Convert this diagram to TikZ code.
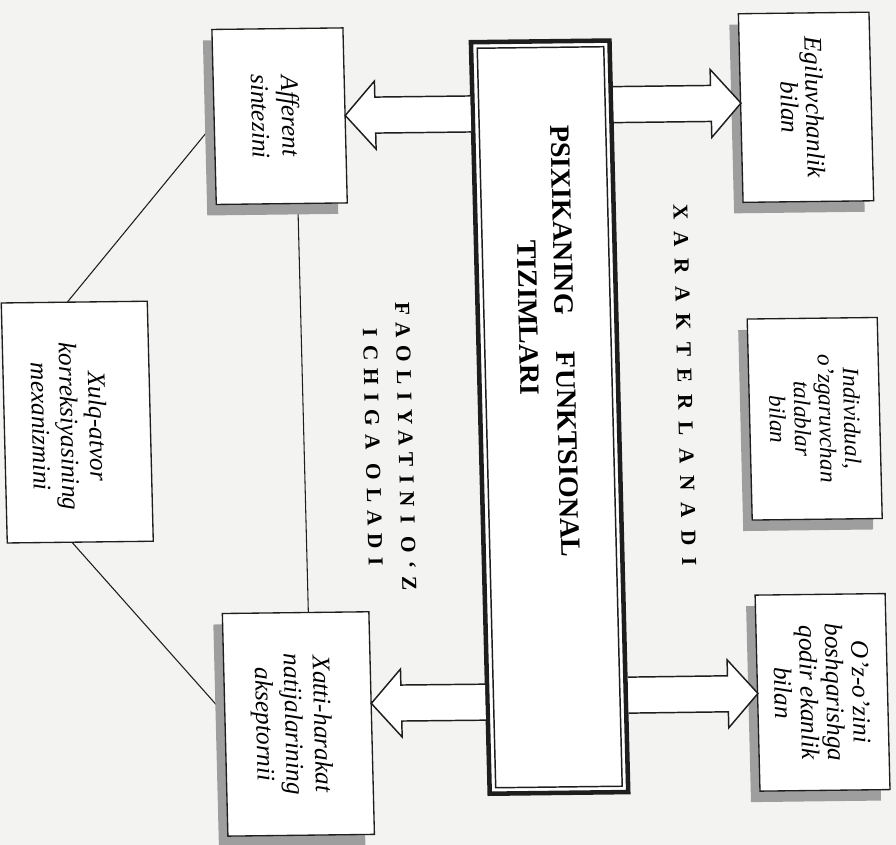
\documentclass[tikz,border=0pt]{standalone}
\usepackage{fontspec}
\setmainfont{Liberation Serif}
\usetikzlibrary{calc,shadows}
\pgfdeclarelayer{paper}
\pgfdeclarelayer{links}
\pgfsetlayers{paper,links,main}
\definecolor{paper}{RGB}{243,243,241}
\definecolor{ink}{RGB}{30,30,30}
\definecolor{shade}{RGB}{158,158,158}
\tikzset{
  sz/.style 2 args={minimum width=#1*0.75pt, minimum height=#2*0.75pt},
  box/.style={draw=ink, line width=1pt, fill=white, inner sep=0pt, outer sep=0pt},
  shadowed/.style={drop shadow={shadow xshift=-6.75pt, shadow yshift=-8.25pt,
      fill=shade, opacity=1}},
  boxtext/.style 2 args={rotate=-90, align=center, inner sep=0pt,
      font=\itshape\fontsize{#1}{#2}\selectfont},
  title/.style={rotate=-90, inner sep=0pt, font=\bfseries\fontsize{21}{25}\selectfont},
  lbl/.style 2 args={rotate=-90, align=center, inner sep=0pt,
      font=\bfseries\fontsize{16}{24.75}\selectfont\addfontfeature{LetterSpace=#1}},
  link/.style={draw=ink, line width=0.8pt},
  fat/.style={draw=ink, line width=1.1pt, fill=white, line join=miter},
  % block arrow pointing right / left; start and target share one height
  fatR/.style={fat, to path={
      ($(\tikztostart)+(0,-18)$) -- ($(\tikztotarget)+(-30,-18)$)
      -- ($(\tikztotarget)+(-30,-34)$) -- (\tikztotarget)
      -- ($(\tikztotarget)+(-30,34)$) -- ($(\tikztotarget)+(-30,18)$)
      -- ($(\tikztostart)+(0,18)$)}},
  fatL/.style={fat, to path={
      ($(\tikztostart)+(0,-18)$) -- ($(\tikztotarget)+(30,-18)$)
      -- ($(\tikztotarget)+(30,-34)$) -- (\tikztotarget)
      -- ($(\tikztotarget)+(30,34)$) -- ($(\tikztotarget)+(30,18)$)
      -- ($(\tikztostart)+(0,18)$)}},
}
\begin{document}
\begin{tikzpicture}[x=0.75pt,y=-0.75pt]
\begin{pgfonlayer}{paper}
  \fill[paper] (0,0) rectangle (896,845);
\end{pgfonlayer}
\useasboundingbox (0,0) rectangle (896,845);

\begin{scope}[cm={1,0.012,-0.025,1,(0,0)}, transform shape]
  % central block with its double frame
  \node[draw=ink, line width=3.4pt, fill=white, inner sep=0pt, sz={138.5}{751.5}] (ctr) at (539,423.6) {};
  \node[draw=ink, line width=1.1pt, inner sep=0pt, sz={126.5}{739.5}] (ctrin) at (ctr.center) {};
  \node[title] (ttl1) at (556.5,347.8) {PSIXIKANING\hspace{27.75pt}FUNKTSIONAL};
  \node[title] (ttl2) at (520.4,324) {TIZIMLARI};

  % boxes on the left
  \node[box, shadowed, sz={131}{175}] (aff) at (276.6,119.5) {};
  \node[box, shadowed, sz={146.5}{222.6}] (xat) at (280.2,727.3) {};
  \node[box, sz={146}{240}] (xul) at (66.7,422.9) {};
  \node[boxtext={19}{22.5}] (afftxt) at ($(aff.center)+(-4,0)$) {Afferent\\sintezini};
  \node[boxtext={19}{21.75}] (xattxt) at ($(xat.center)+(-7,0)$) {Xatti-harakat\\natijalarining\\akseptornii};
  \node[boxtext={19}{21.4}] (xultxt) at ($(xul.center)+(-8,4)$) {Xulq-atvor\\korreksiyasining\\mexanizmini};

  % boxes on the right
  \node[box, shadowed, sz={130.6}{188.6}] (egi) at (803.1,116.9) {};
  \node[box, shadowed, sz={130}{201}] (ind) at (804,428.4) {};
  \node[box, shadowed, sz={130}{196}] (oz) at (805,702) {};
  \node[boxtext={19}{18.75}] (egitxt) at ($(egi.center)+(-4,0)$) {Egiluvchanlik\\bilan};
  \node[boxtext={17.5}{18.6}] (indtxt) at (ind.center) {Individual,\\o’zgaruvchan\\talablar\\bilan};
  \node[boxtext={19}{19.5}] (oztxt) at ($(oz.center)+(-1,0)$) {O’z-o’zini\\boshqarishga\\qodir ekanlik\\bilan};

  % spaced captions
  \node[lbl={56}{}] (xar) at (675,393) {XARAKTERLANADI};
  \node[lbl={38}{}] (fao) at (378,451.6) {FAOLIYATINI O‘Z\\ICHIGA OLADI};

  % block arrows leaving the central block
  \coordinate (t1) at (aff.east);
  \coordinate (s1) at ($(ctr.north west)!(t1)!(ctr.south west)$);
  \draw[fatL] (s1) to (t1);
  \coordinate (t2) at ([yshift=3.75pt]egi.west);
  \coordinate (s2) at ($(ctr.north east)!(t2)!(ctr.south east)$);
  \draw[fatR] (s2) to (t2);
  \coordinate (t3) at (oz.west);
  \coordinate (s3) at ($(ctr.north east)!(t3)!(ctr.south east)$);
  \draw[fatR] (s3) to (t3);
  \coordinate (t4) at ([yshift=15pt]xat.east);
  \coordinate (s4) at ($(ctr.north west)!(t4)!(ctr.south west)$);
  \draw[fatL] (s4) to (t4);

  % thin links, kept under the boxes and their shadows
  \begin{pgfonlayer}{links}
    \draw[link] ([xshift=12pt]aff.south) -- ([xshift=9.5pt]xat.north);
    \draw[link] ([xshift=-5.3pt]xul.north) -- ([yshift=-4.5pt]aff.west);
    \draw[link] ([xshift=-6.2pt]xul.south) -- ([yshift=7.9pt]xat.west);
  \end{pgfonlayer}
\end{scope}
\end{tikzpicture}
\end{document}
